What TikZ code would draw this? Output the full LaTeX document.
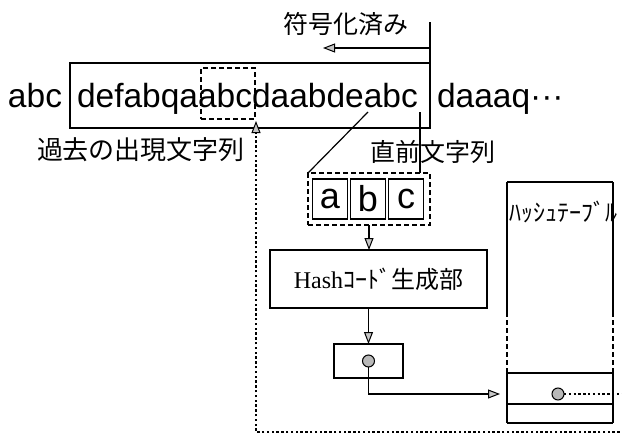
\documentclass[tikz,border=0pt]{standalone}
\usepackage{fontspec}
\setmainfont{Liberation Serif}
\setsansfont{Liberation Sans}
\newfontfamily\jp{Noto Sans CJK JP}
\usetikzlibrary{arrows.meta,calc}
\begin{document}
\begin{tikzpicture}[x=1pt,y=-1pt,
  every node/.style={inner sep=0pt,outer sep=0pt},
  sbox/.style={draw,line width=1.6pt,rectangle},
  dbox/.style={draw,line width=1.2pt,dash pattern=on 5pt off 3pt},
  dotline/.style={line width=2.6pt,dash pattern=on 2.4pt off 2.4pt},
  conn/.style={line width=1.2pt},
  arr/.style={-{Triangle[length=12pt,width=9pt,fill=gray!45,line width=1pt]}},
  seq/.style={font=\sffamily\fontsize{33.5}{36}\selectfont,anchor=base west},
  jlab/.style={font=\jp\fontsize{25}{28}\selectfont},
  hdot/.style={circle,draw,fill=gray!55,minimum size=12pt,line width=1pt},
  cbox/.style={draw,line width=1.7pt,minimum width=35pt,minimum height=40pt,font=\sffamily\fontsize{36}{38}\selectfont}
]
\useasboundingbox (0,0) rectangle (622,434);

% string row
\node[sbox,minimum width=360pt,minimum height=65pt] (main) at (250,95.5) {};
\node[seq] (pre) at (8,107) {abc};
\node[seq] (mid) at (77,107) {defabqaabcdaabdeabc};
\node[seq] (post) at (437,107) {daaaq···};
\node[dbox,minimum width=54pt,minimum height=51pt] (past) at (228,93.5) {};

% encoded arrow
\coordinate (enctop) at (430,22);
\draw[conn] (enctop) -- (main.north east);
\coordinate (encR) at (430,48);
\coordinate (encL) at (323,48);
\draw[conn,arr] (encR) -- (encL);
\node[jlab] (enc) at (346,24) {符号化済み};

% labels
\node[font=\jp\fontsize{26}{28}\selectfont] (pastlab) at (141,150) {過去の出現文字列};
\node[jlab] (curlab) at (433,152) {直前文字列};

% current string boxes
\node[dbox,minimum width=122pt,minimum height=52pt] (cur) at (369,199) {};
\node[cbox] (ca) at (330,199) {a};
\node[cbox] (cb) at (368,199) {b};
\node[cbox] (cc) at (406,199) {c};
\coordinate (fromab) at (368,112);
\coordinate (fromc) at (420,112);
\draw[conn] (fromab) -- (cur.north west);
\draw[conn] (fromc) -- (fromc |- cur.north);

% hash generator
\node[sbox,minimum width=217pt,minimum height=58pt] (hash) at (378.5,279)
  {\fontsize{24}{26}\selectfont Hash{\jp ｺｰﾄﾞ生成部}};
\draw[conn,arr] (cur.south) -- (cur.south |- hash.north);

% small box
\node[sbox,minimum width=69pt,minimum height=34pt] (small) at (368.5,361) {};
\draw[conn,arr] (small.north |- hash.south) -- (small.north);
\node[hdot] (d1) at (small.center) {};
\coordinate (tin) at (500,394);
\draw[conn,arr] (d1.south) |- (tin);

% hash table
\node[minimum width=106pt,minimum height=241pt] (table) at (560,302.5) {};
\draw[sbox] (table.north west) -- (table.north east);
\draw[sbox] (table.south west) -- (table.south east);
\draw[sbox] (507,182) -- (507,312) (613,182) -- (613,312);
\draw[dbox] (507,312) -- (507,373) (613,312) -- (613,373);
\draw[sbox] (507,373) -- (507,423) (613,373) -- (613,423);
\draw[sbox] (507,373) -- (613,373);
\draw[sbox] (507,404) -- (613,404);
\node[font=\jp\fontsize{24}{26}\selectfont,anchor=west] (tlab) at (509,212) {ﾊｯｼｭﾃｰﾌﾞﾙ};
\node[hdot] (d2) at (558,394) {};

% dotted back link
\coordinate (ptip) at (256,121);
\draw[dotline,arr] (d2.east) -- (640,394) -- (640,432) -- (256,432) -- (ptip);
\end{tikzpicture}
\end{document}
